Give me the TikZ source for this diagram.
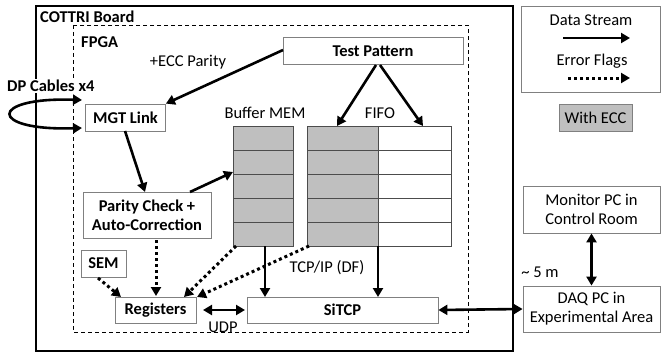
\documentclass[tikz,border=0pt]{standalone}
\usepackage{fontspec}
\setmainfont{Carlito}
\usetikzlibrary{arrows.meta}
\definecolor{boxgray}{RGB}{128,128,128}
\definecolor{fillgray}{RGB}{191,191,191}
\tikzset{
  blk/.style={draw=boxgray,line width=0.8pt,fill=white,inner sep=0pt},
  lbl/.style={font=\fontsize{16.5}{19}\selectfont,inner sep=0pt},
  blbl/.style={font=\fontsize{16.5}{19}\selectfont\bfseries,inner sep=0pt},
  data/.style={line width=2.6pt,-{Triangle[length=9pt,width=10pt]}},
  bidata/.style={line width=2.6pt,{Triangle[length=9pt,width=10pt]}-{Triangle[length=9pt,width=10pt]}},
  flag/.style={line width=3pt,dash pattern=on 3pt off 3pt,-{Triangle[length=9pt,width=10pt]}},
  cell/.style={draw=black!70,line width=0.7pt},
}
\begin{document}
\begin{tikzpicture}[x=1pt,y=-1pt]
\useasboundingbox (0,0) rectangle (661,353);
% board
\draw[line width=1.6pt] (36,6) rectangle (513,351);
\node[blbl,anchor=west] (board) at (40,17) {COTTRI Board};
% FPGA
\draw[line width=0.8pt,dash pattern=on 4pt off 3pt] (73,25) rectangle (468,332);
\node[blbl,anchor=west] (fpga) at (81,42) {FPGA};
\node[lbl] (ecc) at (188,62) {+ECC Parity};
% boxes
\node[blk,blbl,minimum width=180pt,minimum height=27pt] (tp) at (373,51) {Test Pattern};
\node[blk,blbl,minimum width=80pt,minimum height=27pt] (mgt) at (125.5,117.5) {MGT Link};
\node[blk,blbl,minimum width=128pt,minimum height=46pt,align=center] (pc) at (147,215) {Parity Check +\\Auto-Correction};
\node[blk,blbl,minimum width=45pt,minimum height=27pt] (sem) at (103.5,263.5) {SEM};
\node[blk,blbl,minimum width=81pt,minimum height=26pt] (reg) at (155.5,310) {Registers};
\node[blk,blbl,minimum width=191pt,minimum height=26pt] (sitcp) at (342.5,310) {SiTCP};
\node[blk,lbl,minimum width=137pt,minimum height=47pt,align=center] (mon) at (591.5,209.5) {Monitor PC in\\Control Room};
\node[blk,lbl,minimum width=137pt,minimum height=46pt,align=center] (daq) at (591.5,309) {DAQ PC in\\Experimental Area};
% memories
\node[lbl] (buflbl) at (265,113) {Buffer MEM};
\node[lbl] (fifolbl) at (380,113) {FIFO};
\fill[fillgray] (233,126) rectangle (293,246);
\fill[fillgray] (307,126) rectangle (378,246);
\foreach \y in {126,150,174,198,222}{
  \draw[cell] (233,\y) rectangle (293,\y+24);
  \draw[cell] (307,\y) rectangle (378,\y+24);
  \draw[cell] (378,\y) rectangle (451,\y+24);
}
\coordinate (bufin) at (233,172);
\coordinate (bufbl) at (236,246);
\coordinate (bufb) at (265,246);
\coordinate (fifotl) at (337,126);
\coordinate (fifotr) at (423,126);
\coordinate (fifobl) at (309,246);
\coordinate (fifob) at (378,246);
% legend
\node[draw=boxgray,line width=0.8pt,minimum width=139pt,minimum height=86pt] (leg) at (590.5,49) {};
\node[lbl] (ds) at (591,20) {Data Stream};
\node[lbl] (ef) at (592,61) {Error Flags};
\coordinate (ds1) at (563,38); \coordinate (ds2) at (630,38);
\coordinate (ef1) at (568,78); \coordinate (ef2) at (630,78);
\draw[data] (ds1) -- (ds2);
\draw[flag] (ef1) -- (ef2);
\node[draw=boxgray,line width=0.8pt,fill=fillgray,lbl,minimum width=73pt,minimum height=27pt] (ecc2) at (595.5,117.5) {With ECC};
% labels
\node[blbl,anchor=west,fill=white,inner sep=1pt] (dp) at (6,86) {DP Cables x4};
\node[lbl] (tcp) at (327,268) {TCP/IP (DF)};
\node[lbl] (udp) at (223,327) {UDP};
\node[lbl] (five) at (540,272) {\textasciitilde{} 5 m};
% connectors
\coordinate (lp1) at (82,100); \coordinate (lp2) at (82,128);
\coordinate (tpin) at (283,50);
\coordinate (mgtout) at (125,131);
\coordinate (pcin) at (145,192);
\coordinate (pcout) at (190,192);
\coordinate (tpout1) at (376,65);
\coordinate (tpout2) at (380,65);
\coordinate (sitcpin1) at (265,297);
\coordinate (sitcpin2) at (378,297);
\coordinate (regout) at (203,310);
\coordinate (sitcpw) at (245,310);
\coordinate (pcf) at (156,240);
\coordinate (regin1) at (156,296);
\coordinate (semf) at (98,278);
\coordinate (regin2) at (121,297);
\coordinate (regin3) at (184,297);
\coordinate (regin4) at (197,297);
\draw[bidata] (lp1) .. controls (-12,97) and (-12,131) .. (lp2);
\draw[data] (tpin) -- (mgt.north east);
\draw[data] (mgtout) -- (pcin);
\draw[data] (pcout) -- (bufin);
\draw[data] (tpout1) -- (fifotl);
\draw[data] (tpout2) -- (fifotr);
\draw[data] (bufb) -- (sitcpin1);
\draw[data] (fifob) -- (sitcpin2);
\draw[bidata] (regout) -- (sitcpw);
\draw[bidata] (sitcp.east) -- (daq.west);
\draw[bidata] (mon.south) -- (daq.north);
\draw[flag] (pcf) -- (regin1);
\draw[flag] (semf) -- (regin2);
\draw[flag] (bufbl) -- (regin3);
\draw[flag] (fifobl) -- (regin4);
\end{tikzpicture}
\end{document}
